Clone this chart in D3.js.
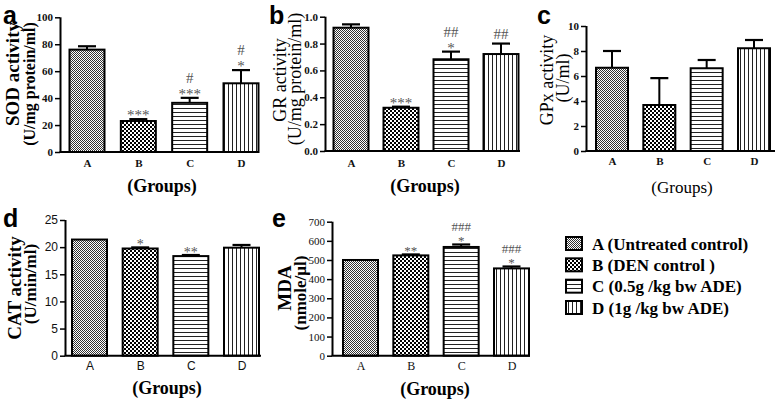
<!DOCTYPE html>
<html><head><meta charset="utf-8">
<script src="https://cdn.jsdelivr.net/npm/d3@7"></script>
<style>body{margin:0;background:#fff}svg{display:block}</style>
</head><body>
<svg id="c" width="778" height="401"></svg>
<script>
// ---------- DATA ----------
const groups = ["A", "B", "C", "D"];
const legendLabels = ["A (Untreated control)", "B (DEN control )", "C (0.5g /kg bw ADE)", "D (1g /kg bw ADE)"];

const sodMean = [76, 23, 36.5, 51];
const sodErr  = [2.5, 1.4, 3.7, 9.8];
const sodStars = ["", "***", "***", "*"];
const sodHash  = ["", "", "#", "#"];
const sodTicks = [0, 20, 40, 60, 80, 100];

const grMean = [0.918, 0.322, 0.683, 0.722];
const grErr  = [0.025, 0.008, 0.057, 0.078];
const grStars = ["", "***", "*", ""];
const grHash  = ["", "", "##", "##"];
const grTicks = [0, 0.2, 0.4, 0.6, 0.8, 1.0];

const gpxMean = [6.66, 3.68, 6.62, 8.22];
const gpxErr  = [1.34, 2.15, 0.66, 0.66];
const gpxStars = ["", "", "", ""];
const gpxHash  = ["", "", "", ""];
const gpxTicks = [0, 2, 4, 6, 8, 10];

const catMean = [21.4, 19.75, 18.35, 19.9];
const catErr  = [0, 0.2, 0.2, 0.5];
const catStars = ["", "*", "**", ""];
const catHash  = ["", "", "", ""];
const catTicks = [0, 5, 10, 15, 20, 25];

const mdaMean = [500, 524, 568, 456];
const mdaErr  = [0, 5, 13, 10];
const mdaStars = ["", "**", "*", "*"];
const mdaHash  = ["", "", "###", "###"];
const mdaTicks = [0, 100, 200, 300, 400, 500, 600, 700];

// ---------- LAYOUT ----------
const SERIF = "'Liberation Serif','Times New Roman',serif";
const SANS = "'Liberation Sans',Arial,sans-serif";
const svg = d3.select("#c");
const defs = svg.append("defs");
const patIds = ["pA", "pB", "pC", "pD"];
{
  let p = defs.append("pattern").attr("id", "pA").attr("patternUnits", "userSpaceOnUse").attr("width", 2).attr("height", 2);
  p.append("rect").attr("width", 2).attr("height", 2).attr("fill", "#fff");
  p.append("rect").attr("width", 1).attr("height", 1).attr("fill", "#333");
  p.append("rect").attr("x", 1).attr("y", 1).attr("width", 1).attr("height", 1).attr("fill", "#333");
  p = defs.append("pattern").attr("id", "pB").attr("patternUnits", "userSpaceOnUse").attr("width", 4).attr("height", 4);
  p.append("rect").attr("width", 4).attr("height", 4).attr("fill", "#fff");
  p.append("rect").attr("width", 2).attr("height", 2).attr("fill", "#000");
  p.append("rect").attr("x", 2).attr("y", 2).attr("width", 2).attr("height", 2).attr("fill", "#000");
  p = defs.append("pattern").attr("id", "pC").attr("patternUnits", "userSpaceOnUse").attr("width", 4).attr("height", 4);
  p.append("rect").attr("width", 4).attr("height", 4).attr("fill", "#fff");
  p.append("rect").attr("width", 4).attr("height", 1).attr("fill", "#222");
  p = defs.append("pattern").attr("id", "pD").attr("patternUnits", "userSpaceOnUse").attr("width", 4).attr("height", 4);
  p.append("rect").attr("width", 4).attr("height", 4).attr("fill", "#fff");
  p.append("rect").attr("width", 1).attr("height", 4).attr("fill", "#222");
}

const panels = [
  {letter: "a", lx: 3, ly: 24, mean: sodMean, err: sodErr, stars: sodStars, hash: sodHash, ticks: sodTicks, fmt: d3.format("d"),
   ax: 60, yTop: 17.3, yBot: 152, dmax: 100, c0: 87, c1: 241, bw: 35, axEnd: 259,
   tickFont: SERIF, tickW: "bold", tickSize: 11, catY: 167, catFont: SERIF, catW: "bold", catSize: 11,
   t1: "SOD activity", t1x: 12, t1y: 74, t1s: 19, t2: "(U/mg protein/ml)", t2x: 29, t2y: 84, t2s: 16, tw: "bold",
   gx: 162, gy: 192, gs: 18, gw: "bold", annS: 15, hashOff: 15, starOff: 1},
  {letter: "b", lx: 269, ly: 24, mean: grMean, err: grErr, stars: grStars, hash: grHash, ticks: grTicks, fmt: d3.format(".1f"),
   ax: 325, yTop: 16.7, yBot: 151, dmax: 1, c0: 351, c1: 501, bw: 35, axEnd: 520,
   tickFont: SERIF, tickW: "bold", tickSize: 11, catY: 167, catFont: SERIF, catW: "bold", catSize: 11,
   t1: "GR activity", t1x: 280, t1y: 80, t1s: 18, t2: "(U/mg protein/ml)", t2x: 295, t2y: 79, t2s: 18, tw: "normal",
   gx: 425, gy: 192, gs: 18, gw: "bold", annS: 15, hashOff: 15, starOff: 1},
  {letter: "c", lx: 537, ly: 24, mean: gpxMean, err: gpxErr, stars: gpxStars, hash: gpxHash, ticks: gpxTicks, fmt: d3.format("d"),
   ax: 586, yTop: 26, yBot: 151, dmax: 10, c0: 612, c1: 754, bw: 32, axEnd: 775,
   tickFont: SERIF, tickW: "bold", tickSize: 11, catY: 165, catFont: SERIF, catW: "bold", catSize: 11,
   t1: "GPx activity", t1x: 547, t1y: 80, t1s: 18, t2: "(U/ml)", t2x: 563, t2y: 78, t2s: 18, tw: "normal",
   gx: 682, gy: 193, gs: 17, gw: "normal", annS: 15, hashOff: 15, starOff: 1},
  {letter: "d", lx: 3, ly: 227, mean: catMean, err: catErr, stars: catStars, hash: catHash, ticks: catTicks, fmt: d3.format("d"),
   ax: 65, yTop: 220, yBot: 355.7, dmax: 25, c0: 89.5, c1: 241.5, bw: 35, axEnd: 261,
   tickFont: SANS, tickW: "normal", tickSize: 12, catY: 370, catFont: SANS, catW: "normal", catSize: 12,
   t1: "CAT activity", t1x: 14, t1y: 288, t1s: 19, t2: "(U/min/ml)", t2x: 30, t2y: 284, t2s: 17, tw: "bold",
   gx: 167, gy: 394, gs: 18, gw: "bold", annS: 14, hashOff: 14, starOff: 2},
  {letter: "e", lx: 272, ly: 227, mean: mdaMean, err: mdaErr, stars: mdaStars, hash: mdaHash, ticks: mdaTicks, fmt: d3.format("d"),
   ax: 332, yTop: 221.7, yBot: 355.7, dmax: 700, c0: 360.5, c1: 511.5, bw: 35, axEnd: 530,
   tickFont: SERIF, tickW: "normal", tickSize: 11, catY: 370, catFont: SERIF, catW: "normal", catSize: 12,
   t1: "MDA", t1x: 284, t1y: 288, t1s: 19, t2: "(nmole/µl)", t2x: 300, t2y: 293, t2s: 17, tw: "bold",
   gx: 435, gy: 395, gs: 18, gw: "bold", annS: 13, hashOff: 13, starOff: 1}
];

panels.forEach(P => {
  const g = svg.append("g");
  const y = d3.scaleLinear().domain([0, P.dmax]).range([P.yBot, P.yTop]);
  const x = d3.scalePoint().domain(groups).range([P.c0, P.c1]);

  g.selectAll("rect.bar").data(groups).join("rect").attr("class", "bar")
    .attr("x", d => x(d) - P.bw / 2).attr("width", P.bw)
    .attr("y", (d, i) => y(P.mean[i])).attr("height", (d, i) => y(0) - y(P.mean[i]))
    .attr("fill", (d, i) => `url(#${patIds[i]})`).attr("stroke", "#000").attr("stroke-width", 2);

  groups.forEach((d, i) => {
    if (P.err[i] <= 0) return;
    const top = y(P.mean[i] + P.err[i]);
    g.append("line").attr("x1", x(d)).attr("x2", x(d)).attr("y1", y(P.mean[i])).attr("y2", top)
      .attr("stroke", "#000").attr("stroke-width", 2);
    g.append("line").attr("x1", x(d) - 9).attr("x2", x(d) + 9).attr("y1", top).attr("y2", top)
      .attr("stroke", "#000").attr("stroke-width", 2.2);
  });

  groups.forEach((d, i) => {
    const top = y(P.mean[i] + P.err[i]);
    if (P.stars[i]) g.append("text").attr("x", x(d)).attr("y", top + P.starOff).attr("text-anchor", "middle")
      .attr("font-family", SERIF).attr("font-size", P.annS).attr("fill", "#555").text(P.stars[i]);
    if (P.hash[i]) g.append("text").attr("x", x(d)).attr("y", top - (P.stars[i] ? P.hashOff : 5)).attr("text-anchor", "middle")
      .attr("font-family", SERIF).attr("font-size", P.annS).attr("fill", "#555").text(P.hash[i]);
  });

  const ya = g.append("g").attr("transform", `translate(${P.ax},0)`)
    .call(d3.axisLeft(y).tickValues(P.ticks).tickFormat(P.fmt).tickSize(5).tickSizeOuter(0).tickPadding(2));
  ya.select(".domain").attr("stroke-width", 2).attr("d", `M0.5,${P.yTop}V${P.yBot}`);
  ya.selectAll(".tick line").attr("stroke-width", 1.5);
  ya.selectAll(".tick text").attr("font-family", P.tickFont).attr("font-weight", P.tickW).attr("font-size", P.tickSize).attr("fill", "#111");

  g.append("line").attr("x1", P.ax - 0.5).attr("x2", P.axEnd).attr("y1", y(0)).attr("y2", y(0))
    .attr("stroke", "#000").attr("stroke-width", 2);
  const xa = g.append("g").attr("transform", `translate(0,${P.catY})`)
    .call(d3.axisBottom(x).tickSize(0).tickPadding(0));
  xa.select(".domain").remove();
  xa.selectAll(".tick text").attr("dy", 0).attr("font-family", P.catFont).attr("font-weight", P.catW).attr("font-size", P.catSize).attr("fill", "#111");

  g.append("text").attr("transform", `translate(${P.t1x},${P.t1y}) rotate(-90)`).attr("text-anchor", "middle")
    .attr("dominant-baseline", "central").attr("font-family", SERIF).attr("font-weight", P.tw).attr("font-size", P.t1s).text(P.t1);
  g.append("text").attr("transform", `translate(${P.t2x},${P.t2y}) rotate(-90)`).attr("text-anchor", "middle")
    .attr("dominant-baseline", "central").attr("font-family", SERIF).attr("font-weight", P.tw).attr("font-size", P.t2s).text(P.t2);
  g.append("text").attr("x", P.gx).attr("y", P.gy).attr("text-anchor", "middle")
    .attr("font-family", SERIF).attr("font-weight", P.gw).attr("font-size", P.gs).text("(Groups)");
  g.append("text").attr("x", P.lx).attr("y", P.ly).attr("font-family", SANS).attr("font-weight", "bold").attr("font-size", 25).text(P.letter);
});

const lg = svg.append("g");
const ly = d3.scalePoint().domain(groups).range([244, 308]);
lg.selectAll("rect").data(groups).join("rect")
  .attr("x", 566).attr("y", d => ly(d) - 7).attr("width", 16).attr("height", 13)
  .attr("fill", (d, i) => `url(#${patIds[i]})`).attr("stroke", "#000").attr("stroke-width", 2);
lg.selectAll("text").data(groups).join("text")
  .attr("x", 592).attr("y", d => ly(d)).attr("dominant-baseline", "central")
  .attr("font-family", SERIF).attr("font-weight", "bold").attr("font-size", 17)
  .text((d, i) => legendLabels[i]);
</script>
</body></html>
